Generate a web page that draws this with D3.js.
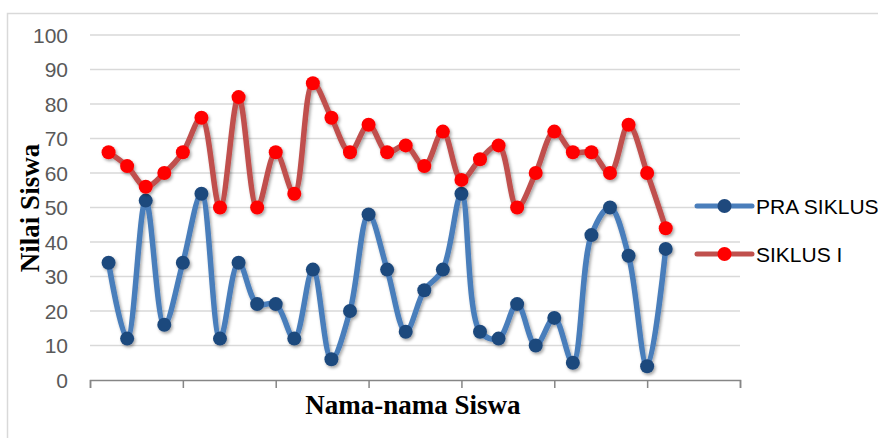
<!DOCTYPE html>
<html>
<head>
<meta charset="utf-8">
<script src="https://cdn.jsdelivr.net/npm/d3@7/dist/d3.min.js"></script>
<style>
  body { margin: 0; background: #fff; }
  svg { display: block; }
</style>
</head>
<body>
<svg id="chart" width="878" height="438"></svg>
<script>
// Values (students 1..31)
var students = d3.range(1, 32);
var praSiklus = [34, 12, 52, 16, 34, 54, 12, 34, 22, 22, 12, 32, 6, 20, 48, 32, 14, 26, 32, 54, 14, 12, 22, 10, 18, 5, 42, 50, 36, 4, 38];
var siklusI   = [66, 62, 56, 60, 66, 76, 50, 82, 50, 66, 54, 86, 76, 66, 74, 66, 68, 62, 72, 58, 64, 68, 50, 60, 72, 66, 66, 60, 74, 60, 44];
var yTicks = [0, 10, 20, 30, 40, 50, 60, 70, 80, 90, 100];
var xTicks = [0, 5, 10, 15, 20, 25, 30, 35];

var series = [
  { name: "PRA SIKLUS", values: praSiklus, line: "#4a7ebb", marker: "#1f497d" },
  { name: "SIKLUS I",   values: siklusI,   line: "#c0504d", marker: "#ff0000" }
];

var svg = d3.select("#chart");

// drop shadow like the office chart
var defs = svg.append("defs");
defs.append("filter").attr("id", "shadow")
    .attr("x", "-50%").attr("y", "-50%").attr("width", "200%").attr("height", "200%")
  .append("feDropShadow")
    .attr("dx", 1.5).attr("dy", 2).attr("stdDeviation", 1.6)
    .attr("flood-color", "#000").attr("flood-opacity", 0.35);

// chart frame
svg.append("rect")
    .attr("x", 7.5).attr("y", 13.5)
    .attr("width", 900).attr("height", 460)
    .attr("fill", "#fff").attr("stroke", "#d9d9d9").attr("stroke-width", 1.5);

var x = d3.scaleLinear().domain([0, 35]).range([90, 740]);
var y = d3.scaleLinear().domain([0, 100]).range([380, 35]);

// gridlines
svg.append("g").selectAll("line")
    .data(yTicks.filter(function(d) { return d > 0; }))
    .enter().append("line")
    .attr("x1", x(0)).attr("x2", x(35))
    .attr("y1", function(d) { return y(d); })
    .attr("y2", function(d) { return y(d); })
    .attr("stroke", "#d9d9d9").attr("stroke-width", 1.5);

// y axis labels
svg.append("g").selectAll("text")
    .data(yTicks)
    .enter().append("text")
    .attr("x", 68)
    .attr("y", function(d) { return y(d) + 7.5; })
    .attr("text-anchor", "end")
    .attr("font-family", "Liberation Sans, Arial, sans-serif")
    .attr("font-size", 21)
    .attr("fill", "#595959")
    .text(function(d) { return d; });

// x axis
var xAxis = d3.axisBottom(x).tickValues(xTicks).tickSize(8).tickFormat("");
var gx = svg.append("g").attr("transform", "translate(0," + y(0) + ")").call(xAxis);
gx.select(".domain").attr("stroke", "#868686").attr("stroke-width", 1.5);
gx.selectAll(".tick line").attr("stroke", "#868686").attr("stroke-width", 1.5);

// axis titles
svg.append("text")
    .attr("transform", "translate(39,208) rotate(-90)")
    .attr("text-anchor", "middle")
    .attr("font-family", "Liberation Serif, Times New Roman, serif")
    .attr("font-weight", "bold")
    .attr("font-size", 27)
    .attr("fill", "#000")
    .text("Nilai Siswa");

svg.append("text")
    .attr("x", 413).attr("y", 414)
    .attr("text-anchor", "middle")
    .attr("font-family", "Liberation Serif, Times New Roman, serif")
    .attr("font-weight", "bold")
    .attr("font-size", 27)
    .attr("fill", "#000")
    .text("Nama-nama Siswa");

// series
var line = d3.line()
    .x(function(d, i) { return x(students[i]); })
    .y(function(d) { return y(d); })
    .curve(d3.curveCatmullRom.alpha(0.5));

series.forEach(function(s) {
  var g = svg.append("g").attr("filter", "url(#shadow)");
  g.append("path")
      .attr("d", line(s.values))
      .attr("fill", "none")
      .attr("stroke", s.line)
      .attr("stroke-width", 5.5)
      .attr("stroke-linejoin", "round")
      .attr("stroke-linecap", "round");
  g.selectAll("circle")
      .data(s.values)
      .enter().append("circle")
      .attr("cx", function(d, i) { return x(students[i]); })
      .attr("cy", function(d) { return y(d); })
      .attr("r", 7)
      .attr("fill", s.marker);
});

// legend
var legend = svg.append("g").selectAll("g")
    .data(series)
    .enter().append("g")
    .attr("transform", function(d, i) { return "translate(697," + (206 + i * 48) + ")"; });

legend.append("line")
    .attr("x1", 0).attr("x2", 55)
    .attr("stroke", function(d) { return d.line; })
    .attr("stroke-width", 5)
    .attr("stroke-linecap", "round");
legend.append("circle")
    .attr("cx", 27.5).attr("r", 7)
    .attr("fill", function(d) { return d.marker; });
legend.append("text")
    .attr("x", 59).attr("y", 8)
    .attr("font-family", "Liberation Sans, Arial, sans-serif")
    .attr("font-size", 21)
    .attr("fill", "#000")
    .text(function(d) { return d.name; });
</script>
</body>
</html>
